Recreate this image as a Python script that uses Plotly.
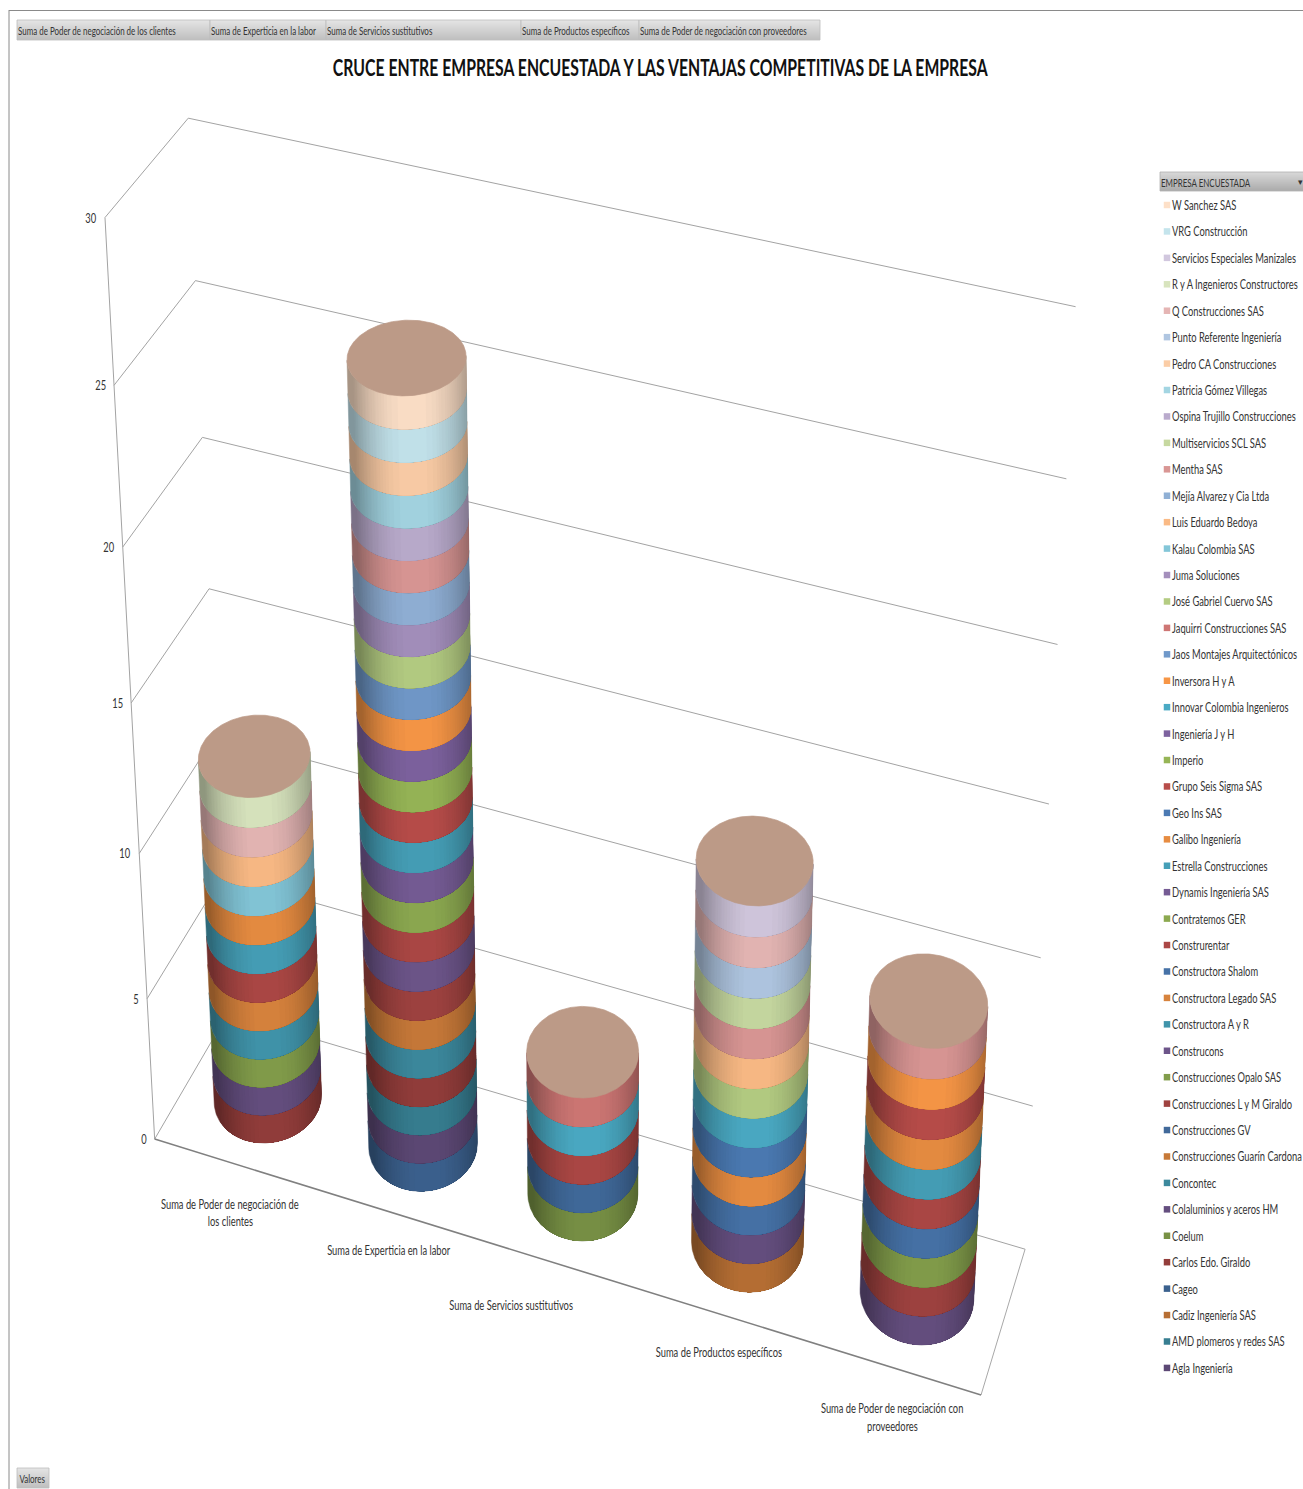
import colorsys
import json
import numpy as np
import plotly.graph_objects as go

# ---------------------------------------------------------------- data
TITLE = "CRUCE ENTRE EMPRESA ENCUESTADA Y LAS VENTAJAS COMPETITIVAS DE LA EMPRESA"
FILTER_LABELS = ["Suma de Poder de negociación de los clientes", "Suma de Experticia en la labor",
                 "Suma de Servicios sustitutivos", "Suma de Productos específicos",
                 "Suma de Poder de negociación con proveedores"]
VALUE_TICKS = [0, 5, 10, 15, 20, 25, 30]

# companies in series order (first series sits at the foot of the legend)
companies = [
    "Agla Ingeniería", "AMD plomeros y redes SAS", "Cadiz Ingeniería SAS", "Cageo", "Carlos Edo. Giraldo",
    "Coelum", "Colaluminios y aceros HM", "Concontec", "Construcciones Guarín Cardona", "Construcciones GV",
    "Construcciones L y M Giraldo", "Construcciones Opalo SAS", "Construcons", "Constructora A y R",
    "Constructora Legado SAS", "Constructora Shalom", "Construrentar", "Contratemos GER",
    "Dynamis Ingeniería SAS", "Estrella Construcciones", "Galibo Ingeniería", "Geo Ins SAS",
    "Grupo Seis Sigma SAS", "Imperio", "Ingeniería J y H", "Innovar Colombia Ingenieros", "Inversora H y A",
    "Jaos Montajes Arquitectónicos", "Jaquirri Construcciones SAS", "José Gabriel Cuervo SAS",
    "Juma Soluciones", "Kalau Colombia SAS", "Luis Eduardo Bedoya", "Mejía Alvarez y Cia Ltda", "Mentha SAS",
    "Multiservicios SCL SAS", "Ospina Trujillo Construcciones", "Patricia Gómez Villegas",
    "Pedro CA Construcciones", "Punto Referente Ingeniería", "Q Construcciones SAS",
    "R y A Ingenieros Constructores", "Servicios Especiales Manizales", "VRG Construcción", "W Sanchez SAS",
]

# company indices stacked in each column, bottom to top, and the value each one adds
stack_clientes = [4, 6, 11, 13, 14, 16, 19, 20, 31, 32, 40, 41]
values_clientes = [1, 1, 1, 1, 1, 1, 1, 1, 1, 1, 1, 1]
stack_experticia = [3, 0, 1, 4, 7, 8, 10, 12, 16, 17, 18, 19, 22, 23, 24, 26, 27, 29, 30, 33, 34, 36, 37, 38, 43, 44]
values_experticia = [1, 1, 1, 1, 1, 1, 1, 1, 1, 1, 1, 1, 1, 1, 1, 1, 1, 1, 1, 1, 1, 1, 1, 1, 1, 1]
stack_servicios = [5, 9, 16, 25, 28]
values_servicios = [1, 1, 1, 1, 1]
stack_productos = [2, 6, 15, 20, 21, 25, 29, 32, 34, 35, 39, 40, 42]
values_productos = [1, 1, 1, 1, 1, 1, 1, 1, 1, 1, 1, 1, 1]
stack_proveedores = [6, 10, 11, 15, 16, 19, 20, 22, 26, 34]
values_proveedores = [1, 1, 1, 1, 1, 1, 1, 1, 1, 1]

columns = [(stack_clientes, values_clientes), (stack_experticia, values_experticia),
           (stack_servicios, values_servicios), (stack_productos, values_productos),
           (stack_proveedores, values_proveedores)]

# category captions, one entry per text line: (text, page x, page y)
category_lines = [("Suma de Poder de negociación de", 230, 1203.5), ("los clientes", 230, 1220.5),
                  ("Suma de Experticia en la labor", 389, 1249.5), ("Suma de Servicios sustitutivos", 511, 1304.5),
                  ("Suma de Productos específicos", 719, 1351.5),
                  ("Suma de Poder de negociación con", 892, 1407.5), ("proveedores", 892, 1425.5)]

# ---------------------------------------------------------------- camera
WIDTH, HEIGHT = 1303, 1489
Y_MAX = 30.0
# plot-box landmarks (X across, value, Z into the page) and where they fall on the page
landmarks = [
    (0, 0, 0, 155, 1140), (0, 5, 0, 147, 998), (0, 10, 0, 139, 853), (0, 15, 0, 131, 703),
    (0, 20, 0, 122, 547), (0, 25, 0, 114, 385), (0, 30, 0, 106, 218),
    (0, 30, 1, 188, 118), (0, 25, 1, 195, 281), (0, 20, 1, 203, 437), (0, 15, 1, 209, 589),
    (1, 30, 1, 1076, 306), (1, 25, 1, 1066, 479), (1, 20, 1, 1057, 645), (1, 15, 1, 1049, 804),
    (1, 10, 1, 1041, 958), (1, 5, 1, 1033, 1107), (1, 0, 1, 1025, 1248), (1, 0, 0, 981, 1395),
]


def fit_camera(points):
    rows, rhs = [], []
    for X, V, Z, u, v in points:
        Y = V / Y_MAX
        rows.append([X, Y, Z, 1, 0, 0, 0, 0, -u * X, -u * Y, -u * Z])
        rows.append([0, 0, 0, 0, X, Y, Z, 1, -v * X, -v * Y, -v * Z])
        rhs += [u, v]
    sol = np.linalg.lstsq(np.array(rows, float), np.array(rhs, float), rcond=None)[0]
    return np.append(sol, 1.0).reshape(3, 4)


CAMERA = fit_camera(landmarks)


def project(X, V, Z):
    X, V, Z = np.broadcast_arrays(np.asarray(X, float), np.asarray(V, float) / Y_MAX, np.asarray(Z, float))
    h = CAMERA @ np.stack([X, V, Z, np.ones_like(X, dtype=float)])
    return h[0] / h[2], h[1] / h[2]


# ---------------------------------------------------------------- colours
THEME = ["#8064A2", "#4BACC6", "#F79646", "#4F81BD", "#C0504D", "#9BBB59"]
CAP_COLOR = "#BC9A87"


def series_rgb(i):
    base = [int(THEME[i % 6][k:k + 2], 16) / 255 for k in (1, 3, 5)]
    if i < 26:
        f = 1 - 0.28 * (26 - i) / 26
        return tuple(c * f for c in base)
    if i == 26:
        return tuple(base)
    h, l, s = colorsys.rgb_to_hls(*base)
    l += (1 - l) * (0.16 + (i - 26) * 0.03)
    return colorsys.hls_to_rgb(h, l, s)


def to_css(rgb, k=1.0):
    return "rgb(%d,%d,%d)" % tuple(min(255, round(c * k * 255)) for c in rgb)


def shade_at(s):
    # surface brightness across the column, s runs -1..1 from left to right silhouette
    return 0.66 + 0.34 * (1 - np.minimum(1.0, np.abs(s - 0.08)) ** 2.2)


# ---------------------------------------------------------------- figure
fig = go.Figure()


def line_trace(xs, ys, color, width):
    fig.add_trace(go.Scatter(x=xs, y=ys, mode="lines", line=dict(color=color, width=width),
                             hoverinfo="skip", showlegend=False))


# value gridlines on the side and back walls
gx, gy = [], []
for v in VALUE_TICKS:
    px, py = project([0, 0, 1], v, [0, 1, 1])
    gx += list(px) + [None]
    gy += list(py) + [None]
line_trace(gx, gy, "#a3a3a3", 1)
px, py = project(0, [0, Y_MAX], 0)
line_trace(list(px), list(py), "#a3a3a3", 1)
px, py = project(1, 0, [0, 1])
line_trace(list(px), list(py), "#a8a8a8", 1)
px, py = project([0, 1], 0, 0)
line_trace(list(px), list(py), "#808080", 1.6)

# column footprint: an ellipse on the floor that reads as level on the page
FOOT_RX, FOOT_RY = 55.0, 47.0
N_SEG = 240
theta = np.linspace(0, 2 * np.pi, N_SEG + 1)
SHADE_STEPS = np.linspace(0.66, 1.0, 22)

d = 1e-3
u0, v0_ = project(0.5, 0, 0.5)
ux, vx = project(0.5 + d, 0, 0.5)
uz, vz = project(0.5, 0, 0.5 + d)
floor_jac = np.array([[ux - u0, uz - u0], [vx - v0_, vz - v0_]]) / d
foot = np.linalg.solve(floor_jac, np.stack([FOOT_RX * np.cos(theta), FOOT_RY * np.sin(theta)]))


def add_band(xc, zc, v0, v1, rgb, name):
    cx, cz = xc + foot[0], zc + foot[1]
    bx, by = project(cx, v0, cz)
    tx, ty = project(cx, v1, cz)

    def area(i):
        i %= N_SEG
        return (bx[i + 1] - bx[i]) * (ty[i] - by[i]) - (by[i + 1] - by[i]) * (tx[i] - bx[i])

    # walk both ways from the facet nearest the viewer to find the visible arc
    start = N_SEG // 4
    front = area(start)
    lo, hi = start, start
    while area(lo - 1) * front > 0:
        lo -= 1
    while area(hi + 1) * front > 0:
        hi += 1
    nodes = np.arange(lo, hi + 2) % N_SEG
    ax, ay, cx_, cy_ = bx[nodes], by[nodes], tx[nodes], ty[nodes]
    mid = 0.5 * (ax + cx_)
    s = 2 * (mid - mid.min()) / (mid.max() - mid.min()) - 1
    shade = shade_at(s)
    # nested layers, each narrower and brighter, so the surface grades without seams
    for n, level in enumerate(SHADE_STEPS):
        keep = np.where(shade >= level - 1e-9)[0] if n else np.arange(len(shade))
        if len(keep) < 2:
            continue
        a, b = keep[0], keep[-1] + 1
        col = to_css(rgb, level)
        xs = list(ax[a:b]) + list(cx_[a:b][::-1]) + [ax[a]]
        ys = list(ay[a:b]) + list(cy_[a:b][::-1]) + [ay[a]]
        fig.add_trace(go.Scatter(x=xs, y=ys, mode="lines", fill="toself", fillcolor=col,
                                 line=dict(color=col, width=0.5 if n == 0 else 0), name=name,
                                 hoverinfo="skip", showlegend=False))


for n, (stack, vals) in enumerate(columns):
    xc, zc = (n + 0.5) / len(columns), 0.5
    total = 0.0
    for company, val in zip(stack, vals):
        add_band(xc, zc, total, total + val, series_rgb(company), companies[company])
        total += val
    cx, cy = project(xc + foot[0], total, zc + foot[1])
    fig.add_trace(go.Scatter(x=cx, y=cy, mode="lines", fill="toself", fillcolor=CAP_COLOR,
                             line=dict(color=CAP_COLOR, width=0.7), hoverinfo="skip", showlegend=False))

# legend swatches
LEG_TOP, LEG_STEP = 205.0, 26.43
order = list(range(len(companies)))[::-1]
leg_y = [LEG_TOP + k * LEG_STEP for k in range(len(order))]
fig.add_trace(go.Scatter(x=[1167] * len(order), y=leg_y, mode="markers",
                         marker=dict(symbol="square", size=6.5, color=[to_css(series_rgb(i)) for i in order],
                                     line=dict(width=0)),
                         hoverinfo="skip", showlegend=False))

TEXT = "#333333"
FONT = "Lato"
annotations = []


def label(text, x, y, size, anchor="left", color=TEXT, bold=False):
    annotations.append(dict(text="<b>%s</b>" % text if bold else text, x=x, y=y, xref="x", yref="y",
                            xanchor=anchor, yanchor="middle", align=anchor, showarrow=False, borderpad=0,
                            font=dict(family=FONT, size=size, color=color)))


for i, y in zip(order, leg_y):
    label(companies[i], 1171, y, 13)
for text, x, y in category_lines:
    label(text, x, y, 13, "center")
for v in VALUE_TICKS:
    px, py = project(0, v, 0)
    label(str(v), float(px) - 7, float(py), 13, "right")
label(TITLE, 660.5, 66.5, 23, "center", "#111111", True)

# pivot-field buttons, graded one pixel row at a time
shapes = []


def button(x0, x1, y0, y1, top, bottom, edge):
    rows = y1 - y0
    for k in range(rows):
        g = int(top + (bottom - top) * k / (rows - 1))
        shapes.append(dict(type="rect", x0=x0, x1=x1, y0=y0 + k, y1=y0 + k + 1,
                           fillcolor="rgb(%d,%d,%d)" % (g, g, g), line=dict(width=0), layer="below"))
    shapes.append(dict(type="rect", x0=x0, x1=x1, y0=y0, y1=y1, line=dict(color=edge, width=0.8), layer="below"))


for text, (x0, x1) in zip(FILTER_LABELS, [(17, 210), (210, 326), (326, 521), (521, 639), (639, 820)]):
    button(x0, x1, 20, 40, 228, 192, "#bcbcbc")
    label(text, x0, 30.5, 12)
button(1160, 1304, 172, 191, 216, 172, "#b0b0b0")
label("EMPRESA ENCUESTADA", 1160, 182.5, 12)
label("▾", 1297, 181, 9)
button(17, 49, 1468, 1488, 228, 192, "#bcbcbc")
label("Valores", 32, 1478.5, 12, "center")

# page frame
shapes.append(dict(type="line", x0=9, x1=WIDTH, y0=10.5, y1=10.5, line=dict(color="#8a8a8a", width=1), layer="below"))
shapes.append(dict(type="line", x0=9, x1=9, y0=10, y1=HEIGHT, line=dict(color="#8a8a8a", width=1), layer="below"))

fig.update_layout(width=WIDTH, height=HEIGHT, autosize=False, margin=dict(l=0, r=0, t=0, b=0, pad=0),
                  paper_bgcolor="white", plot_bgcolor="white", showlegend=False,
                  xaxis=dict(range=[0, WIDTH], visible=False, fixedrange=True),
                  yaxis=dict(range=[HEIGHT, 0], visible=False, fixedrange=True),
                  annotations=annotations, shapes=shapes)

# the chart lettering is set condensed: each size is squeezed so a sample string reaches its set width
condense = {13: ["Construcciones Guarín Cardona", 130], 23: [TITLE, 655], 12: [FILTER_LABELS[0], 158]}
post = """
var C = %s;
var all = Array.prototype.slice.call(document.querySelectorAll('.annotation-text'));
var K = {};
all.forEach(function (t) {
  var s = parseFloat(t.style.fontSize);
  if (C[s] && t.textContent === C[s][0] && !K[s]) { K[s] = C[s][1] / t.getComputedTextLength(); }
});
all.forEach(function (t) {
  var k = K[parseFloat(t.style.fontSize)];
  if (!k) { return; }
  var w = t.getComputedTextLength();
  var x = parseFloat(t.getAttribute('x')) || 0;
  var old = t.getAttribute('transform') || '';
  t.setAttribute('transform', old + ' translate(' + x + ',0) scale(' + k + ',1) translate(' + (-x) + ',0)');
  var bg = t.parentNode.querySelector('rect.bg');
  if (bg) {
    var anchor = t.style.textAnchor || t.getAttribute('text-anchor') || 'start';
    var bw = parseFloat(bg.getAttribute('width')) || w;
    var bx = parseFloat(bg.getAttribute('x')) || 0;
    var nw = bw * k;
    bg.setAttribute('x', anchor === 'middle' ? bx + (bw - nw) / 2 : anchor === 'end' ? bx + bw - nw : bx);
    bg.setAttribute('width', nw);
  }
});
""" % json.dumps(condense)

fig.write_html("out.html", post_script=post, config={"displayModeBar": False})
